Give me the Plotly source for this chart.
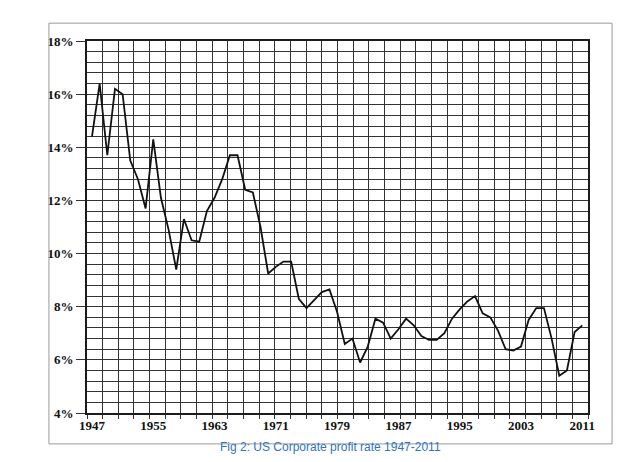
import plotly.graph_objects as go

# US corporate profit rate
years = list(range(1947, 2012))
profit_rate = [
    14.4, 16.4, 13.7, 16.2, 16.0, 13.5, 12.8, 11.7, 14.3, 12.1,
    10.9, 9.4, 11.3, 10.5, 10.45, 11.6, 12.1, 12.8, 13.7, 13.7,
    12.4, 12.3, 11.0, 9.25, 9.5, 9.7, 9.7, 8.3, 7.95, 8.25,
    8.55, 8.65, 7.8, 6.6, 6.8, 5.9, 6.5, 7.55, 7.4, 6.8,
    7.15, 7.55, 7.3, 6.9, 6.75, 6.75, 7.0, 7.55, 7.9, 8.2,
    8.4, 7.75, 7.6, 7.1, 6.4, 6.35, 6.5, 7.5, 7.95, 7.95,
    6.8, 5.4, 5.6, 7.05, 7.3,
]
x_ticks = [1947, 1955, 1963, 1971, 1979, 1987, 1995, 2003, 2011]
y_ticks = [4, 6, 8, 10, 12, 14, 16, 18]
y_labels = ["<b>%d%%</b>" % v for v in y_ticks]
x_labels = ["<b>%d</b>" % v for v in x_ticks]

caption = "Fig 2: US Corporate profit rate 1947-2011"

x_range = [1946.35, 2011.75]
grid_col = "#333333"
serif = "Liberation Serif, serif"

fig = go.Figure()

fig.add_trace(go.Scatter(x=years, y=profit_rate, mode="lines",
                         line=dict(color="#111111", width=1.8),
                         hoverinfo="x+y", showlegend=False))

# graph-paper style grid: 32 columns, 0.4% rows
fig.update_xaxes(range=x_range, tickvals=x_ticks, ticktext=x_labels,
                 showgrid=False, ticks="",
                 showline=True, linecolor="#1c1c1c", linewidth=1.6,
                 mirror=True, zeroline=False,
                 tickfont=dict(family=serif, size=13, color="#111111"),
                 minor=dict(tick0=x_range[0], dtick=(x_range[1] - x_range[0]) / 32,
                            showgrid=True, gridcolor=grid_col, gridwidth=1.3,
                            ticks="outside", ticklen=4, tickcolor=grid_col))
fig.update_yaxes(range=[4, 18], tickvals=y_ticks, ticktext=y_labels,
                 showgrid=True, gridcolor=grid_col, gridwidth=1.3,
                 ticks="outside", ticklen=9, tickcolor=grid_col,
                 showline=True, linecolor="#1c1c1c", linewidth=1.6,
                 mirror=True, zeroline=False,
                 tickfont=dict(family=serif, size=13, color="#111111"),
                 minor=dict(dtick=0.4, showgrid=True, gridcolor=grid_col,
                            gridwidth=1.3))

# grey frame of the scanned figure
fig.add_shape(type="rect", xref="paper", yref="paper",
              x0=-0.076, x1=1.048, y0=-0.083, y1=1.048,
              line=dict(color="#9a9a9a", width=1))

fig.add_annotation(text=caption, xref="paper", yref="paper",
                   x=0.486, y=-0.116, showarrow=False,
                   font=dict(family="Liberation Sans", size=12, color="#2f74bf"))

fig.update_layout(width=640, height=462,
                  margin=dict(l=79, r=60, t=33, b=57),
                  plot_bgcolor="white", paper_bgcolor="white",
                  font_family=serif)

fig.write_html("out.html")
